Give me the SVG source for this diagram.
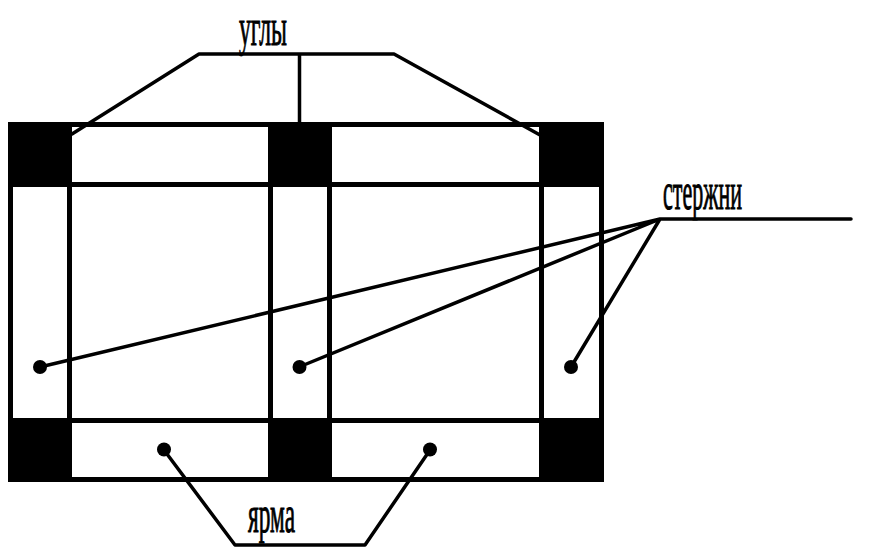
<svg xmlns="http://www.w3.org/2000/svg" width="878" height="556" viewBox="0 0 878 556">
<style>
.f{fill:none;stroke:#000;stroke-width:5}
.c{fill:none;stroke:#000;stroke-width:3.500;stroke-linejoin:round;stroke-linecap:round}
.b{fill:#000}
.t{font-family:"Liberation Serif",serif;font-size:52px;fill:#000;stroke:#000;stroke-width:1}
</style>
<rect width="878" height="556" fill="#fff"/>
<g id="frame">
<rect class="f" x="10.500" y="124.500" width="591" height="355"/>
<path class="f" d="M10 184.500H602M10 420.500H602M69.500 124V480M270.500 124V480M329.500 124V480M541.500 124V480"/>
</g>
<g id="corners">
<rect class="b" x="8" y="122" width="64" height="64"/>
<rect class="b" x="268" y="122" width="64" height="64"/>
<rect class="b" x="540" y="122" width="64" height="64"/>
<rect class="b" x="8" y="418" width="64" height="64"/>
<rect class="b" x="268" y="418" width="64" height="64"/>
<rect class="b" x="540" y="418" width="64" height="64"/>
</g>
<g id="connectors">
<path class="c" d="M72 134L199 54H394L540 135M299.500 54V122"/>
<path class="c" d="M851 219H660L40 367M660 219L299 367M660 219L571 367"/>
<path class="c" d="M164 450L235 545H365L430 450"/>
</g>
<g id="dots">
<circle class="b" cx="40" cy="367" r="7"/>
<circle class="b" cx="299.500" cy="367" r="7"/>
<circle class="b" cx="571" cy="367" r="7"/>
<circle class="b" cx="164" cy="449.500" r="7"/>
<circle class="b" cx="430" cy="449.500" r="7"/>
</g>
<g id="labels">
<text class="t" x="239" y="45" textLength="48" lengthAdjust="spacingAndGlyphs">углы</text>
<text class="t" x="663" y="209" textLength="79" lengthAdjust="spacingAndGlyphs">стержни</text>
<text class="t" x="248" y="532" textLength="47" lengthAdjust="spacingAndGlyphs">ярма</text>
</g>
</svg>
